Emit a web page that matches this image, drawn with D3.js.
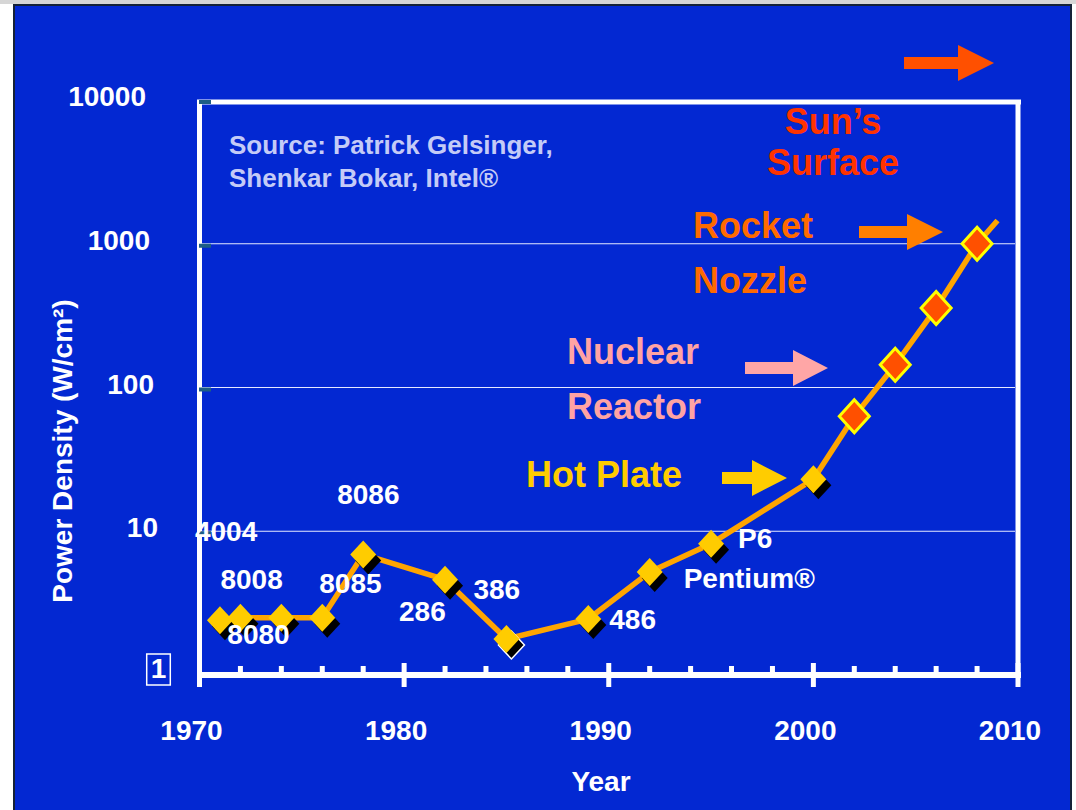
<!DOCTYPE html>
<html>
<head>
<meta charset="utf-8">
<script src="https://cdn.jsdelivr.net/npm/d3@7"></script>
<style>
  body { margin: 0; background: #fff; }
  svg { display: block; font-family: "Liberation Sans", Arial, sans-serif; font-weight: bold; }
</style>
</head>
<body>
<svg id="chart" width="1076" height="810"></svg>
<script>
// Power density per processor generation (W/cm2), log scale
const years = [1971, 1972, 1974, 1976, 1978, 1982, 1985, 1989, 1992, 1995, 2000, 2002, 2004, 2006, 2008, 2009];
const density = [2.4, 2.5, 2.5, 2.5, 6.9, 4.6, 1.78, 2.45, 5.2, 8.2, 23, 63, 144, 357, 1000, 1450];
// 'chip' = shipped part, 'trend' = projected point, 'none' = line end only
const markerKind = ['chip', 'chip', 'chip', 'chip', 'chip', 'chip', 'chip', 'chip', 'chip', 'chip', 'chip',
  'trend', 'trend', 'trend', 'trend', 'none'];

const chipNames = ['4004', '8008', '8080', '8085', '8086', '286', '386', '486', 'Pentium®', 'P6'];
const chipYears = [1971, 1972, 1974, 1976, 1978, 1982, 1985, 1989, 1992, 1995];

const yTicks = [1, 10, 100, 1000, 10000];
const gridValues = [10, 100, 1000];
const xMajor = [1970, 1980, 1990, 2000, 2010];
const xMinor = [1972, 1974, 1976, 1978, 1982, 1984, 1986, 1988, 1992, 1994, 1996, 1998, 2002, 2004, 2006, 2008];

const sourceLines = ['Source: Patrick Gelsinger,', 'Shenkar Bokar, Intel®'];

const BLUE = '#0328d2';
const svg = d3.select('#chart');

const x = d3.scaleLinear().domain([1970, 2010]).range([199.5, 1018]);
const y = d3.scaleLog().domain([1, 10000]).range([675, 100]);

// Slide background
svg.append('rect').attr('x', 0).attr('y', 0).attr('width', 1076).attr('height', 4).attr('fill', '#d6d6d6');
svg.append('rect')
  .attr('x', 14).attr('y', 5).attr('width', 1057).attr('height', 810)
  .attr('fill', BLUE).attr('stroke', '#152238').attr('stroke-width', 2);

// Gridlines
svg.append('g').selectAll('line')
  .data(gridValues)
  .join('line')
  .attr('x1', 202).attr('x2', 1015)
  .attr('y1', d => y(d)).attr('y2', d => y(d))
  .attr('stroke', '#e6eaff').attr('stroke-width', 1.2);

// Plot frame
const frame = svg.append('g').attr('stroke', '#fff');
frame.append('line').attr('x1', 197).attr('x2', 1021).attr('y1', 102).attr('y2', 102).attr('stroke-width', 5);
frame.append('line').attr('x1', 1018).attr('x2', 1018).attr('y1', 100).attr('y2', 675).attr('stroke-width', 5);
frame.append('line').attr('x1', x(1970)).attr('x2', x(1970)).attr('y1', 100).attr('y2', 687).attr('stroke-width', 5);
frame.append('line').attr('x1', 197).attr('x2', 1021).attr('y1', y(1)).attr('y2', y(1)).attr('stroke-width', 6);

// X axis ticks
frame.append('g').selectAll('line')
  .data(xMinor)
  .join('line')
  .attr('x1', d => x(d)).attr('x2', d => x(d))
  .attr('y1', y(1) - 9).attr('y2', y(1))
  .attr('stroke-width', 5);
frame.append('g').selectAll('line')
  .data(xMajor.slice(1))
  .join('line')
  .attr('x1', d => x(d)).attr('x2', d => x(d))
  .attr('y1', y(1) - 12).attr('y2', y(1) + 12)
  .attr('stroke-width', 5);

svg.append('g').selectAll('text')
  .data(xMajor)
  .join('text')
  .attr('x', d => x(d) - 8)
  .attr('y', y(1) + 65)
  .attr('text-anchor', 'middle')
  .attr('fill', '#fff')
  .attr('font-size', 28)
  .text(d => d);

// Y axis ticks (small teal marks) and labels
svg.append('g').selectAll('line')
  .data(yTicks.slice(1))
  .join('line')
  .attr('x1', 199).attr('x2', 211)
  .attr('y1', d => y(d) + 2).attr('y2', d => y(d) + 2)
  .attr('stroke', '#1d5e86').attr('stroke-width', 4);

const yLabels = svg.append('g').selectAll('text')
  .data(yTicks)
  .join('text')
  .attr('x', d => d === 1 ? 158.5 : 146 + 4 * (4 - Math.log10(d)))
  .attr('y', d => d === 1 ? 678 : y(d) + 6)
  .attr('text-anchor', d => d === 1 ? 'middle' : 'end')
  .attr('fill', '#fff')
  .attr('font-size', 28)
  .text(d => d);

// the "1" label sits in a thin box in the original
const oneBox = yLabels.filter(d => d === 1).node().getBBox();
svg.append('rect')
  .attr('x', oneBox.x - 4).attr('y', oneBox.y + 1)
  .attr('width', oneBox.width + 8).attr('height', oneBox.height)
  .attr('fill', 'none').attr('stroke', '#fff').attr('stroke-width', 1.5);

// Axis titles
svg.append('text')
  .attr('transform', 'translate(72,451) rotate(-90)')
  .attr('text-anchor', 'middle')
  .attr('fill', '#fff')
  .attr('font-size', 28)
  .text('Power Density (W/cm²)');

svg.append('text')
  .attr('x', 601).attr('y', 791)
  .attr('text-anchor', 'middle')
  .attr('fill', '#fff')
  .attr('font-size', 28)
  .text('Year');

// Source note
svg.append('g').selectAll('text')
  .data(sourceLines)
  .join('text')
  .attr('x', 229)
  .attr('y', (d, i) => 154 + i * 33)
  .attr('fill', '#c4cbf7')
  .attr('font-size', 26)
  .text(d => d);

// Comparison annotations with block arrows
const arrow = (x0, xBase, xTip, cy, color) => {
  const s = 6, h = 18;
  svg.append('path')
    .attr('d', `M${x0},${cy - s}H${xBase}V${cy - h}L${xTip},${cy}L${xBase},${cy + h}V${cy + s}H${x0}Z`)
    .attr('fill', color);
};

const note = (lines, xPos, y0, lineGap, color, anchor = 'start') => {
  svg.append('g').selectAll('text')
    .data(lines)
    .join('text')
    .attr('x', xPos)
    .attr('y', (d, i) => y0 + i * lineGap)
    .attr('text-anchor', anchor)
    .attr('fill', color)
    .attr('font-size', 36)
    .text(d => d);
};

note(['Sun’s', 'Surface'], 833, 134, 41, '#ff3300', 'middle');
arrow(904, 958, 994, 63, '#ff5000');
note(['Rocket', 'Nozzle'], 693, 238, 55, '#ff6a00');
arrow(859, 907, 943, 232, '#ff7f00');
note(['Nuclear', 'Reactor'], 567, 364, 55, '#ffa3a3');
arrow(745, 793, 828, 368, '#ffa6a6');
note(['Hot Plate'], 526, 487, 0, '#ffcc00');
arrow(722, 752, 787, 478, '#ffcc00');

// Trend line
const points = years.map((yr, i) => ({ year: yr, value: density[i], kind: markerKind[i] }));

svg.append('path')
  .datum(points)
  .attr('d', d3.line().x(d => x(d.year)).y(d => y(d.value)))
  .attr('fill', 'none')
  .attr('stroke', '#ffa500')
  .attr('stroke-width', 5.5)
  .attr('stroke-linejoin', 'round');

const diamond = (w, h) => `M0,${-h}L${w},0L0,${h}L${-w},0Z`;
const chips = points.filter(d => d.kind === 'chip');
const trend = points.filter(d => d.kind === 'trend');

// chip markers: yellow diamond with a drop shadow
svg.append('g').selectAll('path')
  .data(chips)
  .join('path')
  .attr('transform', d => `translate(${x(d.year) + 5},${y(d.value) + 6})`)
  .attr('d', diamond(13, 14))
  .attr('fill', '#000')
  .attr('stroke', d => d.year === 1985 ? '#fff' : 'none')
  .attr('stroke-width', 1.5);

svg.append('g').selectAll('path')
  .data(chips)
  .join('path')
  .attr('transform', d => `translate(${x(d.year)},${y(d.value)})`)
  .attr('d', diamond(13, 14))
  .attr('fill', '#ffcc00');

svg.append('g').selectAll('path')
  .data(trend)
  .join('path')
  .attr('transform', d => `translate(${x(d.year)},${y(d.value)})`)
  .attr('d', diamond(15, 16.5))
  .attr('fill', '#ff5000')
  .attr('stroke', '#ffff00')
  .attr('stroke-width', 3);

// Chip name labels, offset from their markers
const labelOffset = {
  '4004': [-25, -79], '8008': [-20, -29], '8080': [-54, 26], '8085': [-3, -25], '8086': [-26, -50],
  '286': [-46, 41], '386': [-33, -40], '486': [21, 10], 'Pentium®': [34, 16], 'P6': [27, 4]
};

svg.append('g').selectAll('text')
  .data(chipNames)
  .join('text')
  .attr('x', (d, i) => x(chipYears[i]) + labelOffset[d][0])
  .attr('y', (d, i) => y(density[years.indexOf(chipYears[i])]) + labelOffset[d][1])
  .attr('fill', '#fff')
  .attr('font-size', 28)
  .text(d => d);
</script>
</body>
</html>
